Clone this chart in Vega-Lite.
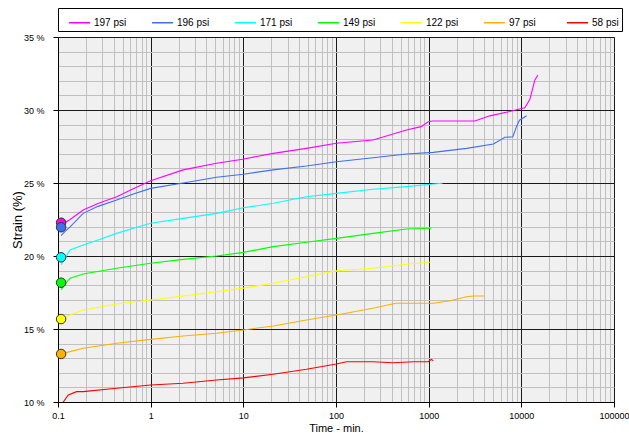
{
  "$schema": "https://vega.github.io/schema/vega-lite/v6.json",
  "width": 556,
  "height": 365,
  "autosize": "none",
  "padding": {"left": 58, "top": 37, "right": 15, "bottom": 31},
  "background": "white",
  "config": {
    "font": "Liberation Sans",
    "view": {"fill": "#f0f0f0", "stroke": "#b8b8b8"},
    "axis": {"labelFont": "Liberation Sans", "titleFont": "Liberation Sans", "labelColor": "#000", "titleColor": "#000", "titleFontWeight": "normal", "domainColor": "#000"}
  },
  "datasets": {
    "lines": [
      {"series": "197 psi", "t": 0.108, "s": 22.1},
      {"series": "197 psi", "t": 0.12, "s": 22.3},
      {"series": "197 psi", "t": 0.135, "s": 22.5},
      {"series": "197 psi", "t": 0.187, "s": 23.15},
      {"series": "197 psi", "t": 0.27, "s": 23.6},
      {"series": "197 psi", "t": 0.43, "s": 24.06},
      {"series": "197 psi", "t": 0.65, "s": 24.6},
      {"series": "197 psi", "t": 1, "s": 25.16},
      {"series": "197 psi", "t": 2.24, "s": 25.9},
      {"series": "197 psi", "t": 5.15, "s": 26.35},
      {"series": "197 psi", "t": 9.8, "s": 26.63},
      {"series": "197 psi", "t": 21, "s": 27.03},
      {"series": "197 psi", "t": 48, "s": 27.37},
      {"series": "197 psi", "t": 101, "s": 27.72},
      {"series": "197 psi", "t": 251, "s": 27.95},
      {"series": "197 psi", "t": 576, "s": 28.63},
      {"series": "197 psi", "t": 830, "s": 28.86},
      {"series": "197 psi", "t": 990, "s": 29.2},
      {"series": "197 psi", "t": 1100, "s": 29.25},
      {"series": "197 psi", "t": 3150, "s": 29.25},
      {"series": "197 psi", "t": 4570, "s": 29.6},
      {"series": "197 psi", "t": 7520, "s": 29.9},
      {"series": "197 psi", "t": 9550, "s": 30.07},
      {"series": "197 psi", "t": 10900, "s": 30.16},
      {"series": "197 psi", "t": 12300, "s": 30.7},
      {"series": "197 psi", "t": 14000, "s": 32.05},
      {"series": "197 psi", "t": 15100, "s": 32.4},
      {"series": "196 psi", "t": 0.108, "s": 21.4},
      {"series": "196 psi", "t": 0.12, "s": 21.7},
      {"series": "196 psi", "t": 0.135, "s": 22.0},
      {"series": "196 psi", "t": 0.187, "s": 22.92},
      {"series": "196 psi", "t": 0.27, "s": 23.4},
      {"series": "196 psi", "t": 0.43, "s": 23.84},
      {"series": "196 psi", "t": 0.65, "s": 24.25},
      {"series": "196 psi", "t": 1, "s": 24.63},
      {"series": "196 psi", "t": 2.24, "s": 25.0},
      {"series": "196 psi", "t": 5.15, "s": 25.39},
      {"series": "196 psi", "t": 10, "s": 25.6},
      {"series": "196 psi", "t": 21, "s": 25.9},
      {"series": "196 psi", "t": 48, "s": 26.16},
      {"series": "196 psi", "t": 101, "s": 26.46},
      {"series": "196 psi", "t": 251, "s": 26.73},
      {"series": "196 psi", "t": 576, "s": 26.99},
      {"series": "196 psi", "t": 1120, "s": 27.1},
      {"series": "196 psi", "t": 2570, "s": 27.37},
      {"series": "196 psi", "t": 5000, "s": 27.67},
      {"series": "196 psi", "t": 6650, "s": 28.13},
      {"series": "196 psi", "t": 8100, "s": 28.17},
      {"series": "196 psi", "t": 8850, "s": 28.86},
      {"series": "196 psi", "t": 9550, "s": 29.3},
      {"series": "196 psi", "t": 11400, "s": 29.6},
      {"series": "171 psi", "t": 0.108, "s": 19.4},
      {"series": "171 psi", "t": 0.12, "s": 19.9},
      {"series": "171 psi", "t": 0.135, "s": 20.41},
      {"series": "171 psi", "t": 0.187, "s": 20.75},
      {"series": "171 psi", "t": 0.27, "s": 21.1},
      {"series": "171 psi", "t": 0.43, "s": 21.55},
      {"series": "171 psi", "t": 0.65, "s": 21.9},
      {"series": "171 psi", "t": 1, "s": 22.24},
      {"series": "171 psi", "t": 2.24, "s": 22.58},
      {"series": "171 psi", "t": 5.15, "s": 22.92},
      {"series": "171 psi", "t": 10, "s": 23.3},
      {"series": "171 psi", "t": 21, "s": 23.61},
      {"series": "171 psi", "t": 48, "s": 24.06},
      {"series": "171 psi", "t": 101, "s": 24.29},
      {"series": "171 psi", "t": 251, "s": 24.57},
      {"series": "171 psi", "t": 576, "s": 24.75},
      {"series": "171 psi", "t": 1120, "s": 24.93},
      {"series": "171 psi", "t": 1410, "s": 24.98},
      {"series": "149 psi", "t": 0.108, "s": 17.67},
      {"series": "149 psi", "t": 0.12, "s": 18.1},
      {"series": "149 psi", "t": 0.135, "s": 18.47},
      {"series": "149 psi", "t": 0.187, "s": 18.77},
      {"series": "149 psi", "t": 0.43, "s": 19.16},
      {"series": "149 psi", "t": 1, "s": 19.5},
      {"series": "149 psi", "t": 2.24, "s": 19.77},
      {"series": "149 psi", "t": 5.15, "s": 20.0},
      {"series": "149 psi", "t": 10, "s": 20.25},
      {"series": "149 psi", "t": 21, "s": 20.64},
      {"series": "149 psi", "t": 48, "s": 20.94},
      {"series": "149 psi", "t": 101, "s": 21.21},
      {"series": "149 psi", "t": 251, "s": 21.55},
      {"series": "149 psi", "t": 576, "s": 21.85},
      {"series": "149 psi", "t": 1070, "s": 21.9},
      {"series": "122 psi", "t": 0.108, "s": 15.7},
      {"series": "122 psi", "t": 0.135, "s": 15.96},
      {"series": "122 psi", "t": 0.187, "s": 16.3},
      {"series": "122 psi", "t": 0.43, "s": 16.71},
      {"series": "122 psi", "t": 1, "s": 16.99},
      {"series": "122 psi", "t": 2.24, "s": 17.26},
      {"series": "122 psi", "t": 5.15, "s": 17.55},
      {"series": "122 psi", "t": 10, "s": 17.8},
      {"series": "122 psi", "t": 21, "s": 18.13},
      {"series": "122 psi", "t": 48, "s": 18.58},
      {"series": "122 psi", "t": 101, "s": 18.99},
      {"series": "122 psi", "t": 251, "s": 19.16},
      {"series": "122 psi", "t": 576, "s": 19.43},
      {"series": "122 psi", "t": 1030, "s": 19.57},
      {"series": "97 psi", "t": 0.108, "s": 13.3},
      {"series": "97 psi", "t": 0.135, "s": 13.45},
      {"series": "97 psi", "t": 0.187, "s": 13.68},
      {"series": "97 psi", "t": 0.43, "s": 14.02},
      {"series": "97 psi", "t": 1, "s": 14.29},
      {"series": "97 psi", "t": 2.24, "s": 14.52},
      {"series": "97 psi", "t": 5.15, "s": 14.71},
      {"series": "97 psi", "t": 10, "s": 14.93},
      {"series": "97 psi", "t": 21, "s": 15.21},
      {"series": "97 psi", "t": 48, "s": 15.62},
      {"series": "97 psi", "t": 101, "s": 15.96},
      {"series": "97 psi", "t": 251, "s": 16.42},
      {"series": "97 psi", "t": 440, "s": 16.76},
      {"series": "97 psi", "t": 1120, "s": 16.76},
      {"series": "97 psi", "t": 1700, "s": 16.94},
      {"series": "97 psi", "t": 2570, "s": 17.21},
      {"series": "97 psi", "t": 3030, "s": 17.26},
      {"series": "97 psi", "t": 4050, "s": 17.26},
      {"series": "58 psi", "t": 0.11, "s": 9.86},
      {"series": "58 psi", "t": 0.129, "s": 10.48},
      {"series": "58 psi", "t": 0.159, "s": 10.71},
      {"series": "58 psi", "t": 0.187, "s": 10.71},
      {"series": "58 psi", "t": 0.43, "s": 10.94},
      {"series": "58 psi", "t": 1, "s": 11.16},
      {"series": "58 psi", "t": 2.24, "s": 11.28},
      {"series": "58 psi", "t": 5.15, "s": 11.51},
      {"series": "58 psi", "t": 10, "s": 11.65},
      {"series": "58 psi", "t": 21, "s": 11.9},
      {"series": "58 psi", "t": 48, "s": 12.24},
      {"series": "58 psi", "t": 101, "s": 12.6},
      {"series": "58 psi", "t": 130, "s": 12.76},
      {"series": "58 psi", "t": 251, "s": 12.76},
      {"series": "58 psi", "t": 410, "s": 12.69},
      {"series": "58 psi", "t": 690, "s": 12.76},
      {"series": "58 psi", "t": 990, "s": 12.76},
      {"series": "58 psi", "t": 1070, "s": 12.92},
      {"series": "58 psi", "t": 1120, "s": 12.83}
    ],
    "markers": [
      {"series": "197 psi", "t": 0.108, "s": 22.28},
      {"series": "196 psi", "t": 0.108, "s": 21.97},
      {"series": "171 psi", "t": 0.108, "s": 19.91},
      {"series": "149 psi", "t": 0.108, "s": 18.17},
      {"series": "122 psi", "t": 0.108, "s": 15.68},
      {"series": "97 psi", "t": 0.108, "s": 13.29}
    ]
  },
  "encoding": {
    "x": {
      "field": "t", "type": "quantitative",
      "scale": {"type": "log", "domain": [0.1, 100000], "nice": false},
      "axis": {
        "title": "Time - min.",
        "titleFontSize": 11,
        "titlePadding": 2,
        "values": [0.1,0.2,0.3,0.4,0.5,0.6,0.7,0.8,0.9,1,2,3,4,5,6,7,8,9,10,20,30,40,50,60,70,80,90,100,200,300,400,500,600,700,800,900,1000,2000,3000,4000,5000,6000,7000,8000,9000,10000,20000,30000,40000,50000,60000,70000,80000,90000,100000],
        "format": "~g",
        "labelExpr": "indexof([0.1,1,10,100,1000,10000,100000], datum.value) >= 0 ? datum.label : ''",
        "labelFontSize": 9,
        "labelPadding": 4,
        "labelFlush": false,
        "labelOverlap": false,
        "tickSize": 5,
        "tickColor": {"condition": {"test": "indexof([0.1,1,10,100,1000,10000,100000], datum.value) >= 0", "value": "#000"}, "value": "transparent"},
        "grid": true,
        "gridColor": {"condition": {"test": "indexof([0.1,1,10,100,1000,10000,100000], datum.value) >= 0", "value": "#1a1a1a"}, "value": "#c0c0c0"},
        "gridWidth": 1,
        "gridOpacity": 1
      }
    },
    "y": {
      "field": "s", "type": "quantitative",
      "scale": {"domain": [10, 35], "nice": false, "zero": false},
      "axis": {
        "title": "Strain (%)",
        "titleFontSize": 13,
        "titlePadding": -1,
        "values": [10,11,12,13,14,15,16,17,18,19,20,21,22,23,24,25,26,27,28,29,30,31,32,33,34,35],
        "labelExpr": "indexof([10,15,20,25,30,35], datum.value) >= 0 ? datum.value + ' %' : ''",
        "labelFontSize": 9,
        "labelPadding": 9,
        "labelFlush": false,
        "labelOverlap": false,
        "tickSize": 5,
        "tickColor": {"condition": {"test": "indexof([10,15,20,25,30,35], datum.value) >= 0", "value": "#000"}, "value": "transparent"},
        "grid": true,
        "gridColor": {"condition": {"test": "indexof([10,15,20,25,30,35], datum.value) >= 0", "value": "#1a1a1a"}, "value": "#c0c0c0"},
        "gridWidth": 1,
        "gridOpacity": 1
      }
    }
  },
  "layer": [
    {
      "data": {"name": "lines"},
      "mark": {"type": "line", "strokeWidth": 1.1, "clip": true, "interpolate": "linear"},
      "encoding": {
        "color": {
          "field": "series", "type": "nominal",
          "scale": {
            "domain": ["197 psi", "196 psi", "171 psi", "149 psi", "122 psi", "97 psi", "58 psi"],
            "range": ["#ff00ff", "#3f6ef5", "#00ffff", "#00ff00", "#ffff00", "#ffb000", "#ff0000"]
          },
          "legend": {
            "title": " ",
            "titleOrient": "left",
            "titlePadding": 7,
            "orient": "none",
            "legendX": 0,
            "legendY": -29,
            "direction": "horizontal",
            "columns": 7,
            "gridAlign": "all",
            "columnPadding": 22,
            "symbolType": "stroke",
            "symbolSize": 440,
            "symbolStrokeWidth": 1.5,
            "labelFontSize": 10,
            "labelFont": "Liberation Sans",
            "labelOffset": 3,
            "strokeColor": "#000",
            "fillColor": "#fff",
            "padding": 3
          }
        }
      }
    },
    {
      "data": {"name": "markers"},
      "mark": {"type": "point", "filled": true, "shape": "circle", "size": 90, "stroke": "#333", "strokeWidth": 1, "opacity": 1},
      "encoding": {
        "fill": {
          "field": "series", "type": "nominal",
          "scale": {
            "domain": ["197 psi", "196 psi", "171 psi", "149 psi", "122 psi", "97 psi", "58 psi"],
            "range": ["#ff00ff", "#3f6ef5", "#00ffff", "#00ff00", "#ffff00", "#ffb000", "#ff0000"]
          },
          "legend": null
        }
      }
    }
  ]
}
